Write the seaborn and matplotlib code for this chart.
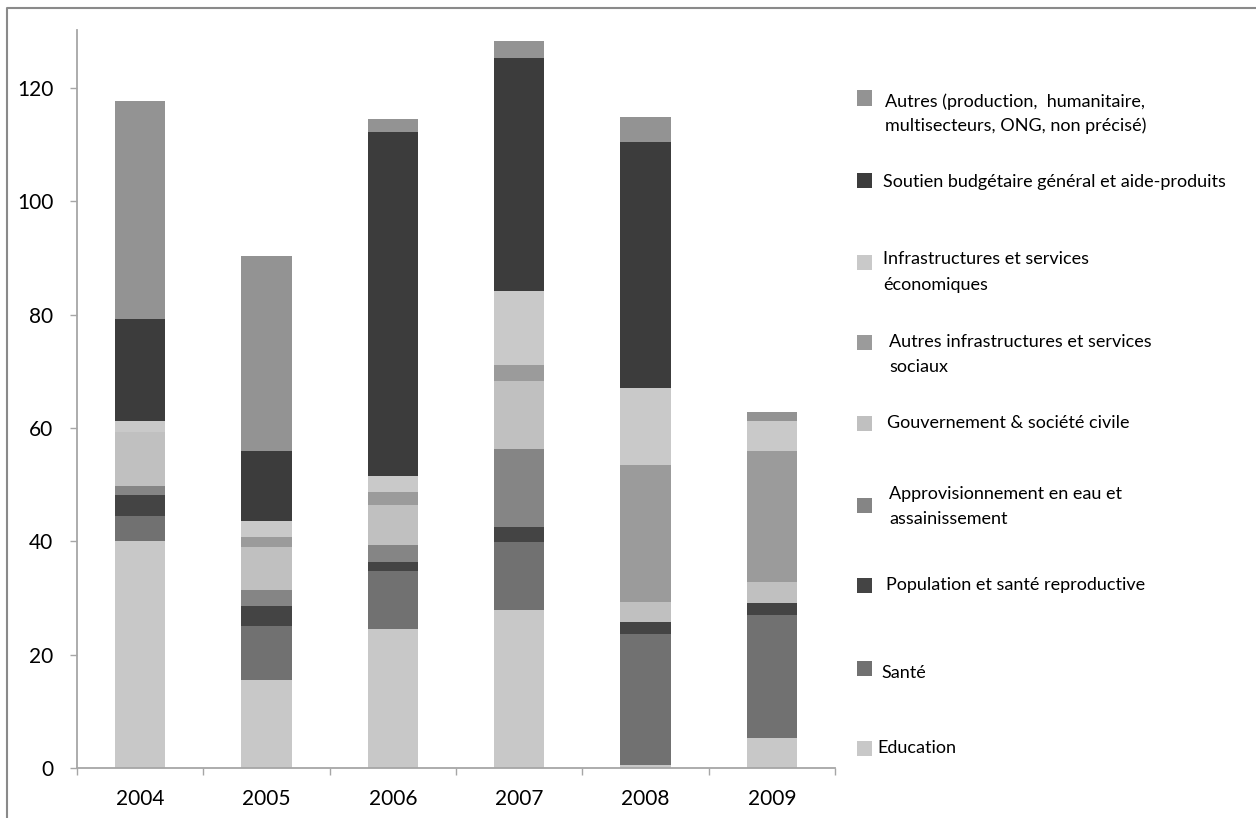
import numpy as np
import pandas as pd
import matplotlib
matplotlib.use("Agg")
import matplotlib.pyplot as plt
from matplotlib.patches import Rectangle
from matplotlib.lines import Line2D
import seaborn as sns

# Aide par secteur (montants, par année)
years = ["2004", "2005", "2006", "2007", "2008", "2009"]

education      = [40.0, 15.6, 24.5, 27.8, 0.6, 5.3]
sante          = [4.4, 9.5, 10.2, 12.0, 23.0, 21.7]
population     = [3.7, 3.5, 1.7, 2.7, 2.1, 2.1]
eau            = [1.7, 2.8, 3.0, 13.8, 0.0, 0.0]
gouvernement   = [9.5, 7.6, 7.0, 11.9, 3.5, 3.7]
infra_sociaux  = [0.0, 1.7, 2.3, 2.9, 24.3, 23.1]
infra_eco      = [2.0, 2.8, 2.8, 13.1, 13.6, 5.3]
soutien        = [18.0, 12.5, 60.7, 41.1, 43.3, 0.0]
autres         = [38.4, 34.4, 2.3, 3.0, 4.5, 1.6]

# stacking order, bottom to top
series = [education, sante, population, eau, gouvernement,
          infra_sociaux, infra_eco, soutien, autres]
labels = [
    ["Education"],
    ["Santé"],
    ["Population et santé reproductive"],
    ["Approvisionnement en eau et", "assainissement"],
    ["Gouvernement & société civile"],
    ["Autres infrastructures et services", "sociaux"],
    ["Infrastructures et services", "économiques"],
    ["Soutien budgétaire général et aide-produits"],
    ["Autres (production,  humanitaire,", "multisecteurs, ONG, non précisé)"],
]
colors = ["#c8c8c8", "#717171", "#444444", "#858585", "#c0c0c0",
          "#9b9b9b", "#c9c9c9", "#3c3c3c", "#939393"]

sns.set_style("white")
plt.rcParams["font.family"] = ["Lato", "DejaVu Sans"]

W, H = 1256, 818
fig = plt.figure(figsize=(W / 100, H / 100), dpi=100)
ax = fig.add_axes([77 / W, 1 - 768 / H, 758 / W, 738 / H])

# cumulative stacks, drawn from the top layer down so lower layers cover upper ones
values = np.array(series)
cum = np.cumsum(values, axis=0)
df = pd.DataFrame(cum.T, index=years)
for i in range(len(series) - 1, -1, -1):
    sns.barplot(x=years, y=df[i].values, order=years, color=colors[i],
                saturation=1, width=0.4, linewidth=0, errorbar=None, ax=ax)

ax.set_xlim(-0.5, 5.5)
ax.set_ylim(0, 130.2)
ax.set_yticks(np.arange(0, 121, 20))
ax.set_xticks(range(len(years)))
ax.set_xticklabels(years)
ax.set_xticks(np.arange(-0.5, 6.0, 1.0), minor=True)

axis_gray = "#a6a6a6"
for s in ["top", "right"]:
    ax.spines[s].set_visible(False)
for s in ["left", "bottom"]:
    ax.spines[s].set_color(axis_gray)
    ax.spines[s].set_linewidth(1.3)

ax.tick_params(axis="y", which="major", length=5, width=1, color=axis_gray,
               direction="out", pad=12, labelsize=15, labelcolor="black", left=True)
ax.tick_params(axis="x", which="major", length=0, pad=15, labelsize=15,
               labelcolor="black")
ax.tick_params(axis="x", which="minor", length=5, width=1, color=axis_gray,
               direction="out", bottom=True)
ax.set_xlabel("")
ax.set_ylabel("")
ax.grid(False)


def fx(x):
    return x / W


def fy(y):
    return 1 - y / H


# legend, stacked top to bottom in reverse series order
legend_items = [
    # (series index, marker y, text x, text line y's)
    (8, 98, 885, [102, 126]),
    (7, 180, 883, [182]),
    (6, 262, 883, [259, 285]),
    (5, 342, 889, [342, 367]),
    (4, 423, 887, [423]),
    (3, 505, 889, [494, 519]),
    (2, 585, 886, [585]),
    (1, 668, 881, [673]),
    (0, 748, 877, [748]),
]
for idx, my, tx, tys in legend_items:
    fig.add_artist(Rectangle((fx(857), fy(my + 7.5)), 15 / W, 15 / H,
                             transform=fig.transFigure, facecolor=colors[idx],
                             edgecolor="none"))
    for line, ty in zip(labels[idx], tys):
        fig.text(fx(tx), fy(ty), line, ha="left", va="center",
                 fontsize=13, color="black")

# outer frame of the chart area
frame = Line2D([fx(7), fx(7), fx(W + 5)], [fy(H + 5), fy(8), fy(8)],
               transform=fig.transFigure, color="#8a8a8a", linewidth=1.5)
fig.add_artist(frame)

fig.savefig("out.png", dpi=100, facecolor="white")
